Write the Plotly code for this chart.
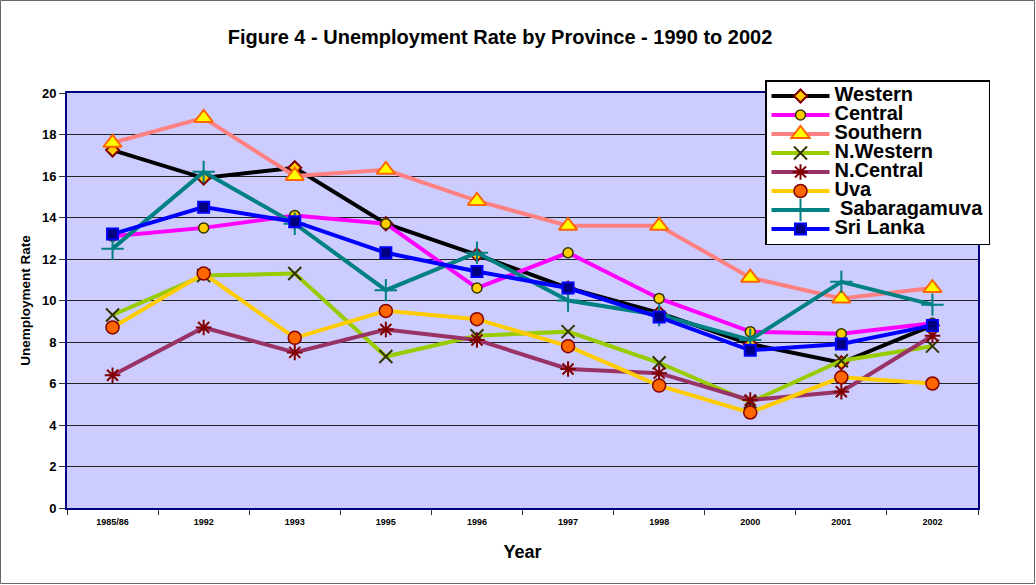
import plotly.graph_objects as go

# Unemployment rate (%) by province, survey years
years = ["1985/86", "1992", "1993", "1995", "1996", "1997", "1998", "2000", "2001", "2002"]

western = [17.25, 15.9, 16.4, 13.7, 12.2, 10.6, 9.4, 7.9, 7.0, 8.8]
central = [13.1, 13.5, 14.1, 13.7, 10.6, 12.3, 10.1, 8.5, 8.4, 8.9]
southern = [17.6, 18.8, 16.0, 16.3, 14.8, 13.6, 13.6, 11.1, 10.1, 10.6]
n_western = [9.3, 11.2, 11.3, 7.3, 8.3, 8.5, 7.0, 5.1, 7.1, 7.8]
n_central = [6.4, 8.7, 7.5, 8.6, 8.1, 6.7, 6.5, 5.2, 5.6, 8.3]
uva = [8.7, 11.3, 8.2, 9.5, 9.1, 7.8, 5.9, 4.6, 6.3, 6.0]
sabaragamuva = [12.5, 16.2, 13.7, 10.5, 12.3, 10.0, 9.3, 8.1, 10.9, 9.8]
sri_lanka = [13.2, 14.5, 13.8, 12.3, 11.4, 10.6, 9.2, 7.6, 7.9, 8.8]

series = [
    ("Western", western, "#000000",
     dict(symbol="diamond", size=10, color="#FFCC00", line=dict(color="#800000", width=2))),
    ("Central", central, "#FF00FF",
     dict(symbol="circle", size=10, color="#FFCC00", line=dict(color="#333300", width=1.5))),
    ("Southern", southern, "#FF8080",
     dict(symbol="triangle-up", size=16, color="#FFFF00", line=dict(color="#FF6600", width=2))),
    ("N.Western", n_western, "#99CC00",
     dict(symbol="x-thin", size=13, color="#333300", line=dict(color="#333300", width=2))),
    ("N.Central", n_central, "#993366",
     dict(symbol="asterisk", size=13, color="#800000", line=dict(color="#800000", width=2))),
    ("Uva", uva, "#FFCC00",
     dict(symbol="circle", size=13, color="#FF6600", line=dict(color="#800000", width=1.5))),
    (" Sabaragamuva", sabaragamuva, "#008080",
     dict(symbol="cross-thin", size=16, color="#008080", line=dict(color="#008080", width=2))),
    ("Sri Lanka", sri_lanka, "#0000FF",
     dict(symbol="square", size=11, color="#000080", line=dict(color="#0000FF", width=2))),
]

fig = go.Figure()
for name, vals, color, marker in series:
    fig.add_trace(go.Scatter(
        x=years, y=vals, mode="lines+markers",
        # large legend text on compact rows
        name=f"<span style='font-size:20px'>{name}</span>",
        line=dict(color=color, width=4), marker=marker,
    ))

W, H = 1036, 585
ML, MR, MT, MB = 67, 58, 93, 77
pw, ph = W - ML - MR, H - MT - MB

fig.update_layout(
    width=W, height=H,
    margin=dict(l=ML, r=MR, t=MT, b=MB),
    paper_bgcolor="white",
    plot_bgcolor="#CCCCFF",
    font=dict(family="Arial, Liberation Sans, sans-serif", color="black"),
    title=dict(
        text="Figure 4 - Unemployment Rate by Province - 1990 to 2002",
        x=(500 / W), xanchor="center", y=1 - 37 / H, yanchor="middle",
        font=dict(size=20, weight="bold"),
    ),
    legend=dict(
        x=(765 - ML) / pw, xanchor="left",
        y=1 + (MT - 80) / ph, yanchor="top",
        bgcolor="white", bordercolor="black", borderwidth=1.5,
        font=dict(size=12, weight="bold"),
        itemwidth=58, tracegroupgap=0,
    ),
    showlegend=True,
)

fig.update_xaxes(
    type="category", range=[-0.5, len(years) - 0.5], tickson="boundaries",
    ticks="outside", ticklen=5, tickcolor="#333333", ticklabelstandoff=4,
    showgrid=False, showline=True, linecolor="#000080", linewidth=2, mirror=True,
    tickfont=dict(size=9, weight="bold", family="Liberation Sans Narrow, Arial Narrow, Arial"),
    title=dict(text="Year", font=dict(size=18, weight="bold"), standoff=20),
)
fig.update_yaxes(
    range=[0, 20], dtick=2, tick0=0,
    ticks="outside", ticklen=6, tickcolor="#333333",
    showgrid=True, gridcolor="#222222", gridwidth=1,
    showline=True, linecolor="#000080", linewidth=2, mirror=True,
    tickfont=dict(size=13, weight="bold"),
    title=dict(text="Unemployment Rate", font=dict(size=13.5, weight="bold"), standoff=8),
    zeroline=False,
)

# thin frame around the whole chart
fig.add_shape(
    type="rect", xref="paper", yref="paper",
    x0=-(ML - 0.5) / pw, x1=1 + (MR - 1.5) / pw,
    y0=-(MB - 1.5) / ph, y1=1 + (MT - 0.5) / ph,
    line=dict(color="#666666", width=1), fillcolor="rgba(0,0,0,0)", layer="above",
)

fig.write_html("out.html")
